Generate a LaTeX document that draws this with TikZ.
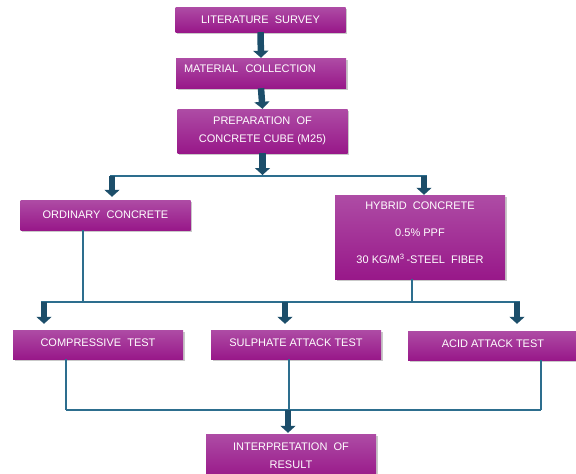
\documentclass[tikz,border=0pt]{standalone}
\usepackage{fontspec}
\setmainfont{Liberation Sans}
\usetikzlibrary{arrows.meta,shadows,calc}
\definecolor{boxtop}{RGB}{174,76,165}
\definecolor{boxbot}{RGB}{152,24,137}
\definecolor{arrowc}{RGB}{28,78,106}
\definecolor{linec}{RGB}{45,110,142}
\tikzset{
  box/.style={rectangle, top color=boxtop, bottom color=boxbot, draw=none,
    minimum width=170pt, inner sep=0pt, text=white, font=\fontsize{11}{13.6}\selectfont,
    align=center, drop shadow={shadow xshift=1.5pt, shadow yshift=-1.5pt, opacity=0.35, fill=black!60}},
  barrow/.style={draw=arrowc, line width=6.5pt, -{Triangle[width=15pt,length=7pt]}, color=arrowc},
  conn/.style={draw=linec, line width=1.6pt}
}
\begin{document}
\begin{tikzpicture}[x=1pt,y=-1pt]
\useasboundingbox (0,0) rectangle (576,474);
\fill[white] (0,0) rectangle (576,474);
\begin{scope}
\clip (0,0) rectangle (576,474);
% boxes
\node[box, minimum height=25pt] (lit) at (260.5,19.5) {LITERATURE\ \ SURVEY};
\node[box, minimum height=30pt, text width=154pt, inner xsep=8pt, align=left] (mat) at (261,73) {MATERIAL\ \ COLLECTION\rule[-8pt]{0pt}{0pt}};
\node[box, minimum height=44pt] (prep) at (262.5,131) {PREPARATION\ \ OF\\[4.4pt]CONCRETE CUBE (M25)};
\node[box, minimum height=30pt] (ord) at (105.5,215) {ORDINARY\ \ CONCRETE};
\node[box, minimum height=84pt] (hyb) at (420,237) {HYBRID\ \ CONCRETE\\[13.4pt]0.5\% PPF\\[13.4pt]30 KG/M\textsuperscript{3}\,-STEEL\ \ FIBER\rule[-8pt]{0pt}{0pt}};
\node[box, minimum height=29pt] (comp) at (98,344.5) {COMPRESSIVE\ \ TEST\rule[-4pt]{0pt}{0pt}};
\node[box, minimum height=29pt] (sul) at (296,344.5) {SULPHATE ATTACK TEST\rule[-4pt]{0pt}{0pt}};
\node[box, minimum height=29pt] (acid) at (493,345.5) {ACID ATTACK TEST\rule[-4pt]{0pt}{0pt}};
\node[box, minimum height=44pt] (int) at (291,456) {INTERPRETATION\ \ OF\\[4.4pt]RESULT};
% junction coordinates
\coordinate (j1) at (262.5,176);
\coordinate (j1l) at (112,176);
\coordinate (j1r) at (424,176);
\coordinate (j1le) at (110,176);
\coordinate (j1re) at (427,176);
\coordinate (j2o) at (83,302);
\coordinate (j2h) at (412,302);
\coordinate (j2a) at (44,302);
\coordinate (j2b) at (285,302);
\coordinate (j2c) at (517,302);
\coordinate (j2le) at (41,302);
\coordinate (j2re) at (520,302);
\coordinate (j3a) at (66,410);
\coordinate (j3b) at (289,410);
\coordinate (j3c) at (541,410);
\coordinate (j3m) at (288,410);
% top arrows
\draw[barrow] (lit.south) -- (mat.north);
\draw[barrow] (mat.south) -- (prep.north);
\draw[conn] (j1le) -- (j1re);
\draw[barrow] (prep.south) -- ($(j1)+(0,-1)$);
\draw[barrow] (j1l) -- ($(ord.north -| j1l)+(0,-3)$);
\draw[barrow] (j1r) -- (hyb.north -| j1r);
% middle
\draw[conn] (ord.south -| j2o) -- (j2o);
\draw[conn] (hyb.south -| j2h) -- (j2h);
\draw[conn] (j2le) -- (j2re);
\draw[barrow] (j2a) -- ($(comp.north -| j2a)+(0,-6)$);
\draw[barrow] (j2b) -- ($(sul.north -| j2b)+(0,-6)$);
\draw[barrow] (j2c) -- ($(acid.north -| j2c)+(0,-7)$);
% bottom
\draw[conn] (comp.south -| j3a) -- (j3a);
\draw[conn] (sul.south -| j3b) -- (j3b);
\draw[conn] (acid.south -| j3c) -- (j3c);
\draw[conn] (j3a) -- (j3c);
\draw[barrow] (j3m) -- ($(int.north -| j3m)+(0,-1)$);
\end{scope}
\end{tikzpicture}
\end{document}
